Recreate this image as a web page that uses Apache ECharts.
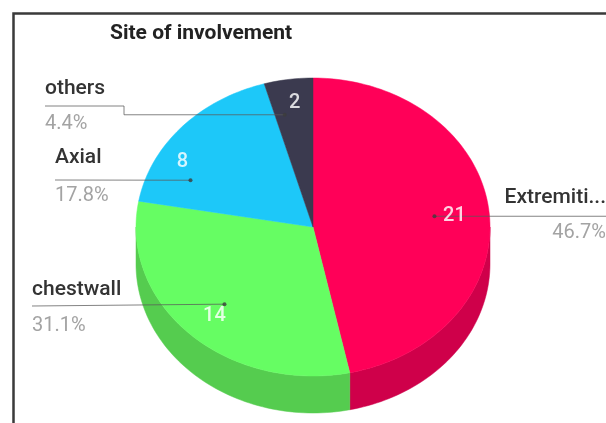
<!DOCTYPE html>
<html>
<head>
<meta charset="utf-8">
<script src="https://cdn.jsdelivr.net/npm/echarts@6/dist/echarts.min.js"></script>
<style>
  html, body { margin: 0; padding: 0; background: #ffffff; }
  #chart { width: 606px; height: 423px; }
</style>
</head>
<body>
<div id="chart"></div>
<script>
// Site of involvement: case counts per site
const categories = ['Extremiti...', 'chestwall', 'Axial', 'others'];
const counts = [21, 14, 8, 2];

// face / side colours per slice
const topColors = ['#ff0058', '#66fd63', '#1dc8f9', '#3b3a4f'];
const sideColors = ['#cf004a', '#55cc4f', '#17a4cf', '#2c2b3b'];

// tilted pie geometry (ellipse centre, radii, wall depth)
const PIE = { cx: 313, cy: 227, rx: 177, ry: 149, depth: 37 };

// callout placement: t = position along the slice arc, f = radial fraction
const callouts = [
  { t: 0.5,   f: 0.69, vdx: 20,  vdy: 0,   side: 'right', nameY: 198, pctY: 233 },
  { t: 0.5,   f: 0.72, vdx: -10, vdy: 12,  side: 'left', nameX: 32, nameY: 290, pctY: 326, lineY: 306 },
  { t: 0.225, f: 0.76, vdx: -8,  vdy: -18, side: 'left', nameX: 55, nameY: 158, pctY: 196, lineY: 180 },
  { t: 0.25,  f: 0.77, vdx: 10,  vdy: -12, side: 'left', nameX: 45, nameY: 89,  pctY: 124, lineY: 106, elbowX: 124 }
];

const total = counts.reduce((a, b) => a + b, 0);
const startAngles = [];
counts.reduce((acc, v, i) => { startAngles[i] = acc; return acc + v; }, 0);

function pt(deg, f, dz) {
  const r = deg * Math.PI / 180;
  return [PIE.cx + PIE.rx * f * Math.sin(r), PIE.cy - PIE.ry * f * Math.cos(r) + (dz || 0)];
}
function arc(a, b, f, dz) {
  const pts = [];
  const n = Math.max(2, Math.ceil(Math.abs(b - a) / 1.5));
  for (let k = 0; k <= n; k++) pts.push(pt(a + (b - a) * k / n, f, dz));
  return pts;
}
function sliceRange(idx, api) {
  const v = api.value(1);
  const a = startAngles[idx] / total * 360;
  return [a, a + v / total * 360];
}

// slice faces and walls
function renderSlice(params, api) {
  const idx = params.dataIndex;
  const [a, b] = sliceRange(idx, api);
  const children = [];
  const sa = Math.max(a, 90), sb = Math.min(b, 270);
  if (sb > sa) {
    const upper = arc(sa, sb, 1, 0);
    const lower = arc(sb, sa, 1, PIE.depth);
    children.push({
      type: 'polygon',
      shape: { points: upper.concat(lower) },
      style: { fill: sideColors[idx], stroke: sideColors[idx], lineWidth: 0.5 }
    });
  }
  children.push({
    type: 'polygon',
    shape: { points: [[PIE.cx, PIE.cy]].concat(arc(a, b, 1, 0)) },
    style: { fill: topColors[idx], stroke: topColors[idx], lineWidth: 0.5 }
  });
  return { type: 'group', children: children };
}

// leader lines, names, percentages and value labels
function renderCallout(params, api) {
  const idx = params.dataIndex;
  const c = callouts[idx];
  const [a, b] = sliceRange(idx, api);
  const v = api.value(1);
  const dot = pt(a + (b - a) * c.t, c.f, 0);
  const font = 'Roboto, "Noto Sans", sans-serif';
  const children = [];
  let linePts;
  if (c.side === 'right') {
    linePts = [dot, [606, dot[1]]];
  } else if (c.elbowX != null) {
    linePts = [[c.nameX, c.lineY], [c.elbowX, c.lineY], [c.elbowX, dot[1]], dot];
  } else {
    linePts = [[c.nameX, c.lineY], dot];
  }
  children.push({
    type: 'polyline',
    shape: { points: linePts },
    style: { stroke: 'rgba(90,90,90,0.75)', lineWidth: 1, fill: null }
  });
  children.push({
    type: 'circle',
    shape: { cx: dot[0], cy: dot[1], r: 2 },
    style: { fill: 'rgba(60,60,60,0.8)' }
  });
  const pct = (v / total * 100).toFixed(1) + '%';
  const isRight = c.side === 'right';
  children.push({
    type: 'text',
    style: {
      text: api.value(0), x: isRight ? 606 : c.nameX, y: c.nameY,
      align: isRight ? 'right' : 'left', verticalAlign: 'middle',
      fill: '#333333', font: '500 21px ' + font
    }
  });
  children.push({
    type: 'text',
    style: {
      text: pct, x: isRight ? 606 : c.nameX, y: c.pctY,
      align: isRight ? 'right' : 'left', verticalAlign: 'middle',
      fill: '#a3a3a3', font: '20px ' + font
    }
  });
  children.push({
    type: 'text',
    style: {
      text: String(v), x: dot[0] + c.vdx, y: dot[1] + c.vdy,
      align: 'center', verticalAlign: 'middle',
      fill: 'rgba(255,255,255,0.82)', font: '500 20px ' + font
    }
  });
  return { type: 'group', children: children };
}

const seriesData = categories.map((name, i) => [name, counts[i]]);

const chart = echarts.init(document.getElementById('chart'), null, { renderer: 'canvas' });
chart.setOption({
  backgroundColor: '#ffffff',
  animation: false,
  title: {
    text: 'Site of involvement',
    left: 105, top: 18,
    textStyle: { fontFamily: 'Roboto, "Noto Sans", sans-serif', fontSize: 21, fontWeight: 'bold', color: '#222222' }
  },
  graphic: [{
    type: 'rect', z: 100,
    shape: { x: 13.5, y: 13.5, width: 700, height: 500 },
    style: { fill: null, stroke: '#3a3a3a', lineWidth: 2.5 }
  }],
  series: [
    { type: 'custom', coordinateSystem: 'none', renderItem: renderSlice, data: seriesData, z: 2, silent: true },
    { type: 'custom', coordinateSystem: 'none', renderItem: renderCallout, data: seriesData, z: 3, silent: true }
  ]
});
</script>
</body>
</html>
